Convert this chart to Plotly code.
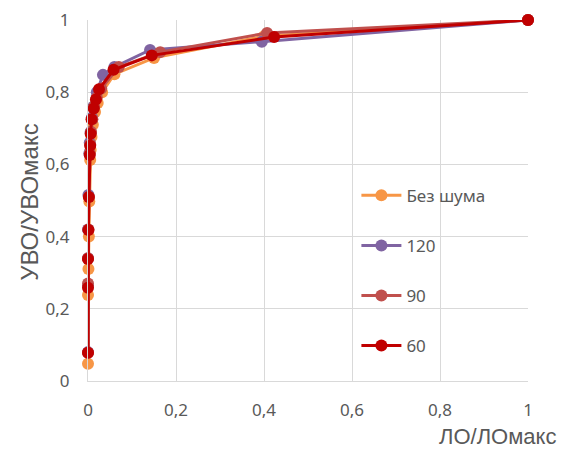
import plotly.graph_objects as go

names = ["Без шума", "120", "90", "60"]
colors = ["#F79646", "#8064A2", "#C0504D", "#C00000"]

x_bez = [0.0, 0.0, 0.001, 0.002, 0.003, 0.005, 0.006, 0.008, 0.011, 0.016, 0.022, 0.032, 0.06, 0.15, 0.40, 1.0]
y_bez = [0.048, 0.238, 0.31, 0.40, 0.497, 0.612, 0.64, 0.676, 0.71, 0.745, 0.77, 0.80, 0.85, 0.895, 0.955, 1.0]

x_120 = [0.0, 0.0, 0.0, 0.0, 0.001, 0.003, 0.004, 0.006, 0.009, 0.012, 0.02, 0.034, 0.06, 0.141, 0.395, 1.0]
y_120 = [0.08, 0.265, 0.34, 0.42, 0.515, 0.63, 0.66, 0.69, 0.73, 0.76, 0.80, 0.848, 0.87, 0.917, 0.94, 1.0]

x_90 = [0.0, 0.0, 0.0, 0.001, 0.002, 0.004, 0.005, 0.007, 0.010, 0.014, 0.020, 0.030, 0.07, 0.164, 0.407, 1.0]
y_90 = [0.078, 0.27, 0.34, 0.42, 0.51, 0.63, 0.655, 0.69, 0.725, 0.76, 0.785, 0.81, 0.87, 0.911, 0.964, 1.0]

x_60 = [0.0, 0.0, 0.0, 0.001, 0.002, 0.004, 0.005, 0.006, 0.008, 0.013, 0.018, 0.025, 0.058, 0.145, 0.423, 1.0]
y_60 = [0.078, 0.258, 0.338, 0.418, 0.51, 0.626, 0.652, 0.685, 0.725, 0.755, 0.78, 0.808, 0.862, 0.902, 0.953, 1.0]

xs = [x_bez, x_120, x_90, x_60]
ys = [y_bez, y_120, y_90, y_60]

fig = go.Figure()
for i in range(4):
    fig.add_trace(go.Scatter(
        x=xs[i], y=ys[i], name=names[i], mode="lines+markers",
        line=dict(color=colors[i], width=3),
        marker=dict(color=colors[i], size=12),
        cliponaxis=False, legendgroup=names[i],
    ))

grid = "#D9D9D9"
txt = "#595959"
tickfont = dict(family="Noto Sans", size=17, color=txt)
fig.update_layout(
    width=566, height=442,
    margin=dict(l=80, r=46, t=12, b=69, autoexpand=False),
    plot_bgcolor="white", paper_bgcolor="white",
    separators=", ",
    showlegend=True,
    legend=dict(x=0.61, y=0.563, xanchor="left", yanchor="top",
                font=dict(family="Noto Sans", size=17, color=txt),
                tracegroupgap=25, itemwidth=40, bgcolor="rgba(0,0,0,0)"),
    xaxis=dict(range=[0, 1], dtick=0.2, showgrid=True, gridcolor=grid,
               showline=True, linecolor=grid, zeroline=False, automargin=False,
               tickfont=tickfont, ticklabelstandoff=14, ticklabeloverflow="allow"),
    yaxis=dict(range=[0, 1], dtick=0.2, showgrid=True, gridcolor=grid,
               showline=True, linecolor=grid, zeroline=False, automargin=False,
               tickfont=tickfont, ticklabelstandoff=14, ticklabeloverflow="allow"),
    annotations=[
        dict(text="ЛО/ЛОмакс", xref="paper", yref="paper", x=1.068, y=-0.155,
             xanchor="right", yanchor="middle", showarrow=False,
             font=dict(family="Liberation Sans", size=22, color=txt)),
        dict(text="УВО/УВОмакс", xref="paper", yref="paper", x=-0.132, y=0.496,
             xanchor="center", yanchor="middle", textangle=-90, showarrow=False,
             font=dict(family="Liberation Sans", size=24, color=txt)),
    ],
)
fig.write_html("out.html")
